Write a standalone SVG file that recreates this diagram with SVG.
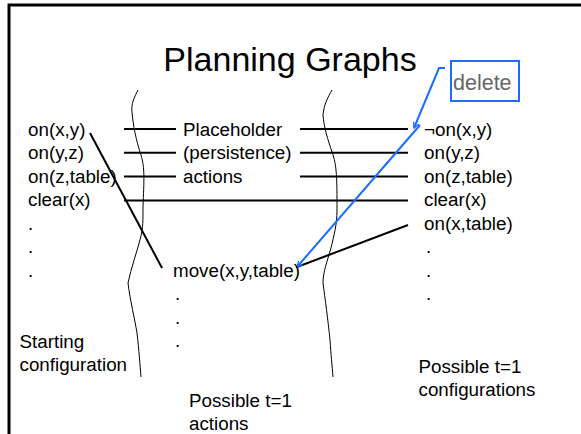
<svg xmlns="http://www.w3.org/2000/svg" width="581" height="434" viewBox="0 0 581 434">
  <style>
    text { font-family: "Liberation Sans", Arial, sans-serif; fill: #000; }
    .lbl { font-size: 18.8px; }
    .title { font-size: 34px; }
    .note { font-size: 21.5px; fill: #666; }
    .link { stroke: #000; stroke-width: 2; fill: none; }
    .wave { stroke: #000; stroke-width: 1; fill: none; }
    .blue { stroke: #1a6dff; stroke-width: 2; fill: none; }
  </style>
  <defs>
    <marker id="openArrow" viewBox="0 0 10 10" refX="9" refY="5" markerWidth="7" markerHeight="7" markerUnits="userSpaceOnUse" orient="auto">
      <path d="M1,1 L9,5 L1,9" fill="none" stroke="#1a6dff" stroke-width="1.8"/>
    </marker>
  </defs>

  <!-- frame -->
  <path d="M9,434 V5 H581" fill="none" stroke="#000" stroke-width="3"/>

  <!-- title -->
  <text class="title" x="290" y="71" text-anchor="middle">Planning Graphs</text>

  <!-- layer separators -->
  <path class="wave" d="M138,90 C134,98 131,104 132,112 C133,125 136,140 141,155 C145,168 144,180 143,207 C143,220 143,228 141,236 C137,252 131,268 128,283 C130,300 135,320 137,333 C139,350 140,365 141,377"/>
  <path class="wave" d="M332,90 C328,97 324,104 323,115 C324,128 328,140 332,152 C337,165 337,180 337,210 C337,225 334,235 331,248 C327,262 323,272 323,283 C325,298 328,320 330,340 C331,355 332,365 333,377"/>

  <!-- connectors -->
  <g id="connectors">
    <line class="link" x1="124" y1="129" x2="176" y2="129"/>
    <line class="link" x1="124" y1="152.7" x2="176" y2="152.7"/>
    <line class="link" x1="124" y1="176.5" x2="176" y2="176.5"/>
    <line class="link" x1="300" y1="129" x2="408" y2="129"/>
    <line class="link" x1="300" y1="152.7" x2="408" y2="152.7"/>
    <line class="link" x1="300" y1="176.5" x2="408" y2="176.5"/>
    <line class="link" x1="124" y1="200.5" x2="408" y2="200.5"/>
    <line class="link" x1="90" y1="133" x2="162" y2="268"/>
    <line class="link" x1="297" y1="267" x2="408" y2="225"/>
    <path class="blue" d="M445,68 H439 L414,128" marker-end="url(#openArrow)"/>
    <path class="blue" d="M420,125 L297,267" marker-end="url(#openArrow)"/>
  </g>

  <!-- starting configuration -->
  <g id="state-t0">
    <text class="lbl" x="28" y="135.5">on(x,y)</text>
    <text class="lbl" x="28" y="159">on(y,z)</text>
    <text class="lbl" x="28" y="182.5">on(z,table)</text>
    <text class="lbl" x="28" y="206">clear(x)</text>
    <text class="lbl" x="28" y="229.5">.</text>
    <text class="lbl" x="28" y="253">.</text>
    <text class="lbl" x="28" y="276.5">.</text>
    <text class="lbl" x="19.5" y="348">Starting</text>
    <text class="lbl" x="19.5" y="370.5">configuration</text>
  </g>

  <!-- actions -->
  <g id="actions-t1">
    <text class="lbl" x="183" y="135.5">Placeholder</text>
    <text class="lbl" x="183" y="159">(persistence)</text>
    <text class="lbl" x="183" y="182.5">actions</text>
    <text class="lbl" x="173" y="276.5">move(x,y,table)</text>
    <text class="lbl" x="175" y="300">.</text>
    <text class="lbl" x="175" y="323.5">.</text>
    <text class="lbl" x="175" y="347">.</text>
    <text class="lbl" x="189" y="407">Possible t=1</text>
    <text class="lbl" x="189" y="429.5">actions</text>
  </g>

  <!-- resulting configurations -->
  <g id="state-t1">
    <text class="lbl" x="424" y="135.5">¬on(x,y)</text>
    <text class="lbl" x="424" y="159">on(y,z)</text>
    <text class="lbl" x="424" y="182.5">on(z,table)</text>
    <text class="lbl" x="424" y="206">clear(x)</text>
    <text class="lbl" x="424" y="229.5">on(x,table)</text>
    <text class="lbl" x="426" y="253">.</text>
    <text class="lbl" x="426" y="276.5">.</text>
    <text class="lbl" x="426" y="300">.</text>
    <text class="lbl" x="418.5" y="373">Possible t=1</text>
    <text class="lbl" x="418.5" y="395.5">configurations</text>
  </g>

  <!-- delete note -->
  <g id="delete-note">
    <rect x="451" y="61" width="68" height="40" fill="none" stroke="#1a6dff" stroke-width="2"/>
    <text class="note" x="453" y="89.5">delete</text>
  </g>
</svg>
